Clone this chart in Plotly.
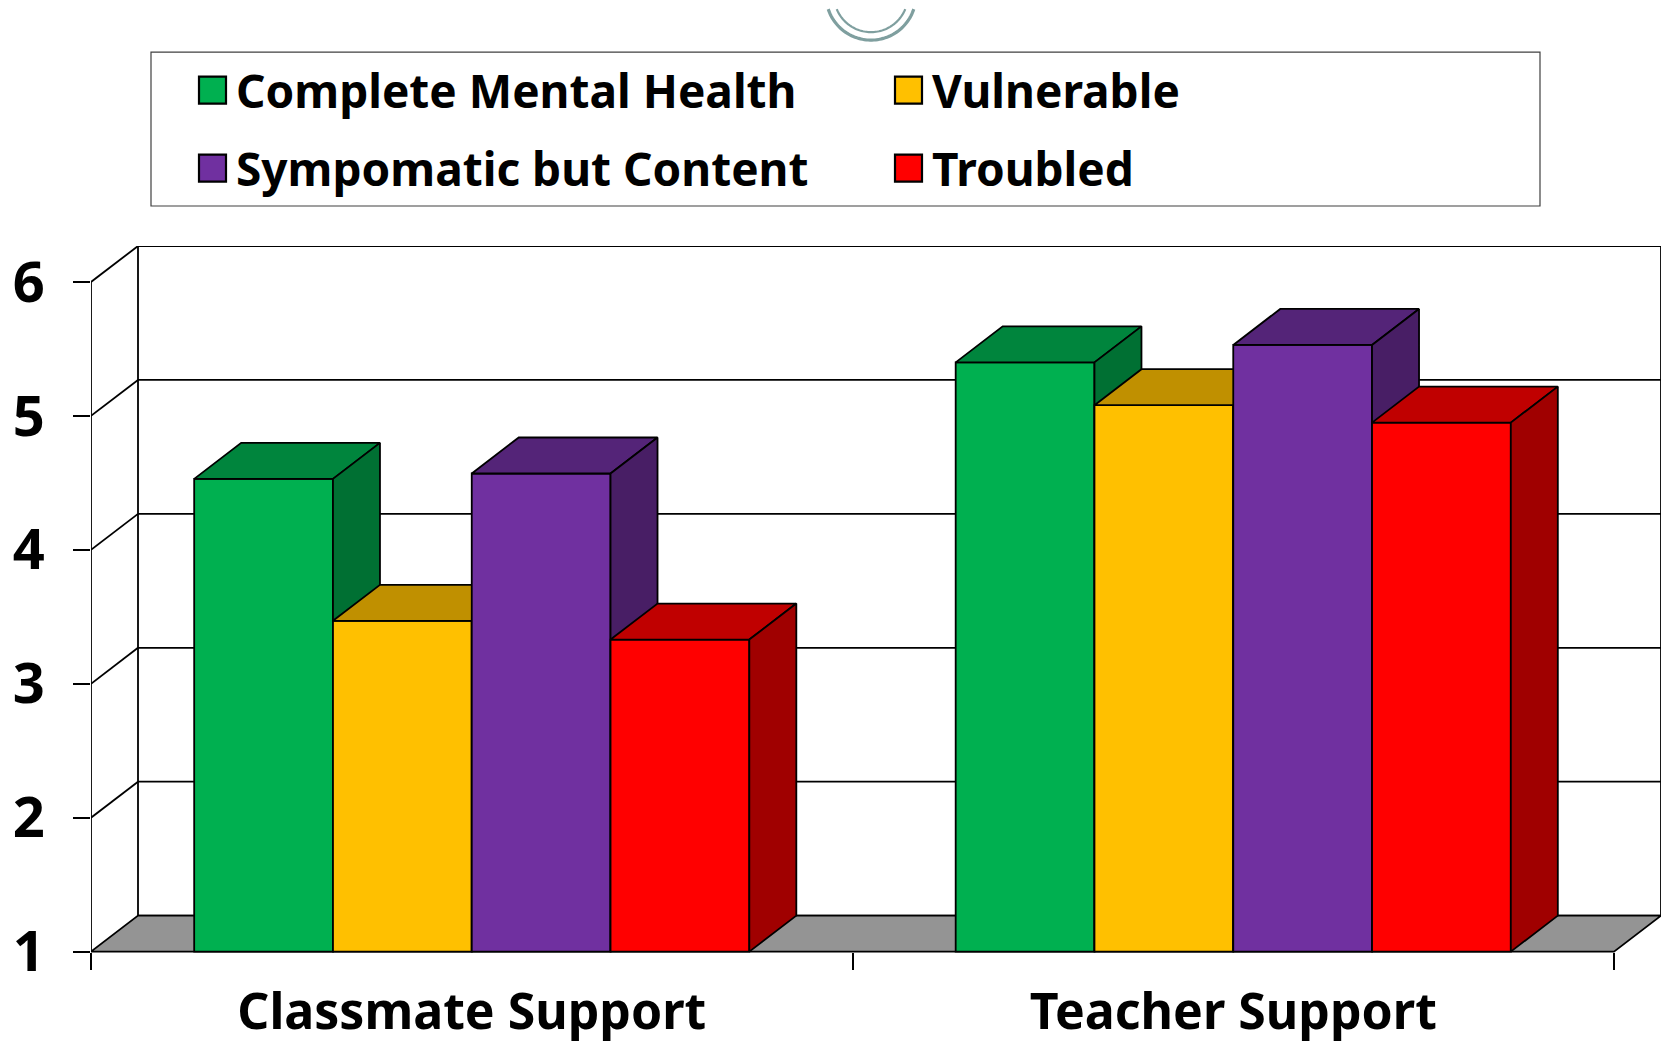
import numpy as np
import plotly.graph_objects as go

# ---------------- data ----------------
categories = ["Classmate Support", "Teacher Support"]
series_names = ["Complete Mental Health", "Vulnerable", "Sympomatic but Content", "Troubled"]
complete_mental_health = [4.53, 5.40]
vulnerable = [3.47, 5.08]
sympomatic_but_content = [4.57, 5.53]
troubled = [3.33, 4.95]
y_tick_values = [1, 2, 3, 4, 5, 6]
series_values = [complete_mental_health, vulnerable, sympomatic_but_content, troubled]

# ---------------- style ----------------
FRONT = ["#00B050", "#FFC000", "#7030A0", "#FF0000"]
TOP = ["#00853D", "#C09000", "#542478", "#C00000"]
SIDE = ["#007033", "#A07800", "#481E65", "#A00000"]
FLOOR = "#949494"
FONT = "Noto Sans"

FIG_W, FIG_H = 1661, 1046
PLOT_L = 91          # px of front value axis
FRONT_R = 1614       # px of front right floor corner
Y1_PX = 952          # px of value 1 on front axis
PX_PER_UNIT = 134.0
DEPTH_X_PX = 47
DEPTH_Y_PX = 36
Y_LO = 0.9

n_cat = len(categories)
x_per_px = n_cat / (FRONT_R - PLOT_L)
DX = DEPTH_X_PX * x_per_px
DY = DEPTH_Y_PX / PX_PER_UNIT
x_lo = -0.5
x_hi = -0.5 + (FIG_W - PLOT_L) * x_per_px
y_base = min(y_tick_values)
y_top = max(y_tick_values) + DY
plot_top_px = Y1_PX - (y_top - y_base) * PX_PER_UNIT
plot_bot_px = Y1_PX + (y_base - Y_LO) * PX_PER_UNIT

def pxx(px):
    return (px - PLOT_L) / (FIG_W - PLOT_L)

def pxy(py):
    return (plot_bot_px - py) / (plot_bot_px - plot_top_px)

GROUP = 0.729
n_ser = len(series_values)
bw = GROUP / n_ser
xpos = list(range(n_cat))
LW = 1.8

fig = go.Figure()

for i, (name, vals) in enumerate(zip(series_names, series_values)):
    off = -GROUP / 2 + i * bw
    fig.add_trace(go.Bar(
        x=xpos, y=[v - y_base for v in vals], base=y_base, name=name,
        offset=off, width=bw, zorder=i,
        marker=dict(color=FRONT[i], line=dict(color="black", width=LW)),
        customdata=vals, hovertemplate="%{customdata}<extra>" + name + "</extra>",
        showlegend=False,
    ))
    for j, v in zip(xpos, vals):
        xl = j + off
        xr = xl + bw
        # top face
        fig.add_trace(go.Scatter(
            x=[xl, xr, xr + DX, xl + DX, xl], y=[v, v, v + DY, v + DY, v],
            mode="lines", fill="toself", fillcolor=TOP[i],
            line=dict(color="black", width=LW), zorder=i,
            hoverinfo="skip", showlegend=False))
        # side face
        fig.add_trace(go.Scatter(
            x=[xr, xr + DX, xr + DX, xr, xr], y=[v, v + DY, y_base + DY, y_base, v],
            mode="lines", fill="toself", fillcolor=SIDE[i],
            line=dict(color="black", width=LW), zorder=i,
            hoverinfo="skip", showlegend=False))

shapes = []
line_k = dict(color="black", width=1.8)
# back wall
shapes.append(dict(type="rect", xref="x", yref="y", x0=x_lo + DX, x1=x_lo + n_cat + DX,
                   y0=y_base + DY, y1=max(y_tick_values) + DY, line=line_k,
                   fillcolor="white", layer="below"))
for v in y_tick_values[1:-1]:
    shapes.append(dict(type="line", xref="x", yref="y", x0=x_lo + DX, x1=x_lo + n_cat + DX,
                       y0=v + DY, y1=v + DY, line=line_k, layer="below"))
# side wall lines
for v in y_tick_values[1:]:
    shapes.append(dict(type="line", xref="x", yref="y", x0=x_lo, x1=x_lo + DX,
                       y0=v, y1=v + DY, line=line_k, layer="below"))
shapes.append(dict(type="line", xref="x", yref="y", x0=x_lo, x1=x_lo,
                   y0=y_base, y1=max(y_tick_values), line=line_k, layer="below"))
# floor
fx = [x_lo, x_lo + n_cat, x_lo + n_cat + DX, x_lo + DX]
fy = [y_base, y_base, y_base + DY, y_base + DY]
path = "M" + " L".join(f"{a},{b}" for a, b in zip(fx, fy)) + " Z"
shapes.append(dict(type="path", xref="x", yref="y", path=path, fillcolor=FLOOR,
                   line=line_k, layer="below"))

# legend box
shapes.append(dict(type="rect", xref="paper", yref="paper", x0=pxx(151), x1=pxx(1540),
                   y0=pxy(206), y1=pxy(52), line=dict(color="#404040", width=1.2),
                   fillcolor="white", layer="above"))
annotations = []
leg_pos = [(199, 90), (895, 90), (199, 168), (895, 168)]
for i, (name, (lx, ly)) in enumerate(zip(series_names, leg_pos)):
    s = 27
    shapes.append(dict(type="rect", xref="paper", yref="paper", x0=pxx(lx), x1=pxx(lx + s),
                       y0=pxy(ly + s / 2), y1=pxy(ly - s / 2),
                       line=dict(color="black", width=2.2), fillcolor=FRONT[i], layer="above"))
    annotations.append(dict(xref="paper", yref="paper", x=pxx(lx + 35), y=pxy(ly),
                            text=name, showarrow=False, xanchor="left", yanchor="middle",
                            font=dict(family=FONT, size=46, color="black", weight="bold")))

# decorative arcs at top
for r, w in [(45, 3.2), (37, 2.2)]:
    cx, cy = 871, -5
    t0 = np.arcsin(14 / r)
    th = np.linspace(t0, np.pi - t0, 60)
    pts = [(pxx(cx + r * np.cos(t)), pxy(cy + r * np.sin(t))) for t in th]
    p = "M" + " L".join(f"{a:.5f},{b:.5f}" for a, b in pts)
    shapes.append(dict(type="path", xref="paper", yref="paper", path=p,
                       line=dict(color="#7F9F9F", width=w), layer="above"))

fig.update_layout(
    width=FIG_W, height=FIG_H,
    margin=dict(l=PLOT_L, r=0, t=plot_top_px, b=FIG_H - plot_bot_px, autoexpand=False),
    paper_bgcolor="white", plot_bgcolor="rgba(0,0,0,0)",
    barmode="overlay", showlegend=False,
    shapes=shapes, annotations=annotations,
    xaxis=dict(range=[x_lo, x_hi], tickmode="array", tickvals=xpos, ticktext=categories,
               ticks="", showgrid=False, zeroline=False, showline=False,
               anchor="free", position=pxy(Y1_PX),
               tickfont=dict(family=FONT, size=50, color="black", weight="bold"),
               ticklabelstandoff=26,
               minor=dict(tickmode="array", tickvals=[x_lo + k for k in range(n_cat + 1)],
                          ticks="outside", ticklen=17, tickwidth=1.5, tickcolor="black",
                          showgrid=False)),
    yaxis=dict(range=[Y_LO, y_top], tickmode="array", tickvals=y_tick_values,
               ticks="outside", ticklen=17, tickwidth=1.5, tickcolor="black",
               showgrid=False, zeroline=False, showline=False,
               tickfont=dict(family=FONT, size=56, color="black", weight="bold"),
               ticklabelstandoff=17),
)

fig.write_html("out.html", config={"displayModeBar": False},
               post_script="document.body.style.margin='0';")
